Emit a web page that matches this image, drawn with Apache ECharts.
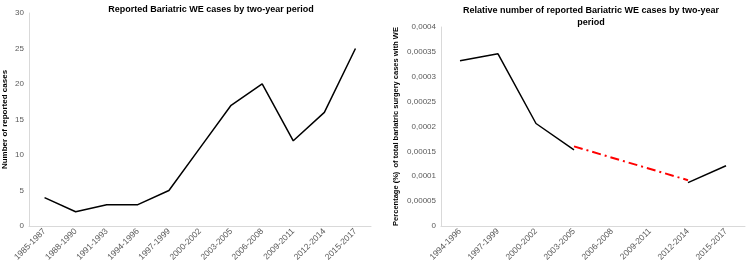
<!DOCTYPE html>
<html><head><meta charset="utf-8">
<script src="https://cdn.jsdelivr.net/npm/echarts@6/dist/echarts.min.js"></script>
<style>html,body{margin:0;padding:0;background:#fff}#c{width:746px;height:264px}</style>
</head><body><div id="c"></div>
<script>
const leftCategories = ['1985-1987','1988-1990','1991-1993','1994-1996','1997-1999','2000-2002','2003-2005','2006-2008','2009-2011','2012-2014','2015-2017'];
const leftValues = [4, 2, 3, 3, 5, 11, 17, 20, 12, 16, 25];
const rightCategories = ['1994-1996','1997-1999','2000-2002','2003-2005','2006-2008','2009-2011','2012-2014','2015-2017'];
const rightBlackA = [0.000332, 0.000346, 0.000206, 0.000153, null, null, null, null];
const rightRed = [null, null, null, 0.00016, null, null, 0.000092, null];
const rightBlackB = [null, null, null, null, null, null, 0.000087, 0.000121];
const rightTickLabels = ['0','0,00005','0,0001','0,00015','0,0002','0,00025','0,0003','0,00035','0,0004'];

const FONT = '"Liberation Sans", Arial, sans-serif';
const axisGray = '#d9d9d9';
const labelGray = '#595959';

const chart = echarts.init(document.getElementById('c'), null, {renderer: 'canvas'});
const xAxisCommon = {
  type: 'category',
  boundaryGap: true,
  axisLine: {show: true, lineStyle: {color: axisGray, width: 1}},
  axisTick: {show: false},
  axisLabel: {rotate: 45, color: labelGray, fontSize: 8.5, fontFamily: FONT, interval: 0, margin: 4},
  splitLine: {show: false}
};
const yAxisCommon = {
  type: 'value',
  axisLine: {show: true, lineStyle: {color: axisGray, width: 1}},
  axisTick: {show: false},
  splitLine: {show: false},
  nameLocation: 'middle',
  nameTextStyle: {fontWeight: 'bold', fontSize: 8, color: '#000', fontFamily: FONT},
  axisLabel: {color: labelGray, fontSize: 8, fontFamily: FONT, margin: 5}
};
chart.setOption({
  animation: false,
  textStyle: {fontFamily: FONT},
  title: [
    {text: 'Reported Bariatric WE cases by two-year period', left: 206, top: 0, textAlign: 'center',
     textStyle: {fontSize: 9, fontWeight: 'bold', color: '#000', fontFamily: FONT}},
    {text: 'Relative number of reported Bariatric WE cases by two-year\nperiod', left: 586, top: 0, textAlign: 'center',
     textStyle: {fontSize: 9, fontWeight: 'bold', color: '#000', fontFamily: FONT, lineHeight: 12}}
  ],
  grid: [
    {left: 29, right: 375, top: 13, bottom: 36, containLabel: false},
    {left: 441, right: 1, top: 27, bottom: 36, containLabel: false}
  ],
  xAxis: [
    Object.assign({}, xAxisCommon, {gridIndex: 0, data: leftCategories}),
    Object.assign({}, xAxisCommon, {gridIndex: 1, data: rightCategories})
  ],
  yAxis: [
    Object.assign({}, yAxisCommon, {gridIndex: 0, min: 0, max: 30, interval: 5,
      name: 'Number of reported cases', nameGap: 20}),
    Object.assign({}, yAxisCommon, {gridIndex: 1, min: 0, max: 0.0004, interval: 0.00005,
      name: 'Percentage (%)  of total bariatric surgery cases with WE', nameGap: 41,
      nameTextStyle: Object.assign({}, yAxisCommon.nameTextStyle, {fontSize: 7.5}),
      axisLabel: Object.assign({}, yAxisCommon.axisLabel, {
        formatter: function (v) { return rightTickLabels[Math.round(v / 0.00005)]; }
      })})
  ],
  series: [
    {type: 'line', xAxisIndex: 0, yAxisIndex: 0, data: leftValues, symbol: 'none',
     lineStyle: {color: '#000', width: 1.5}},
    {type: 'line', xAxisIndex: 1, yAxisIndex: 1, data: rightBlackA, symbol: 'none',
     lineStyle: {color: '#000', width: 1.5}},
    {type: 'line', xAxisIndex: 1, yAxisIndex: 1, data: rightRed, symbol: 'none', connectNulls: true,
     lineStyle: {color: '#ff0000', width: 2, type: [9, 4, 2, 4]}},
    {type: 'line', xAxisIndex: 1, yAxisIndex: 1, data: rightBlackB, symbol: 'none',
     lineStyle: {color: '#000', width: 1.5}}
  ]
});
</script>
</body></html>
